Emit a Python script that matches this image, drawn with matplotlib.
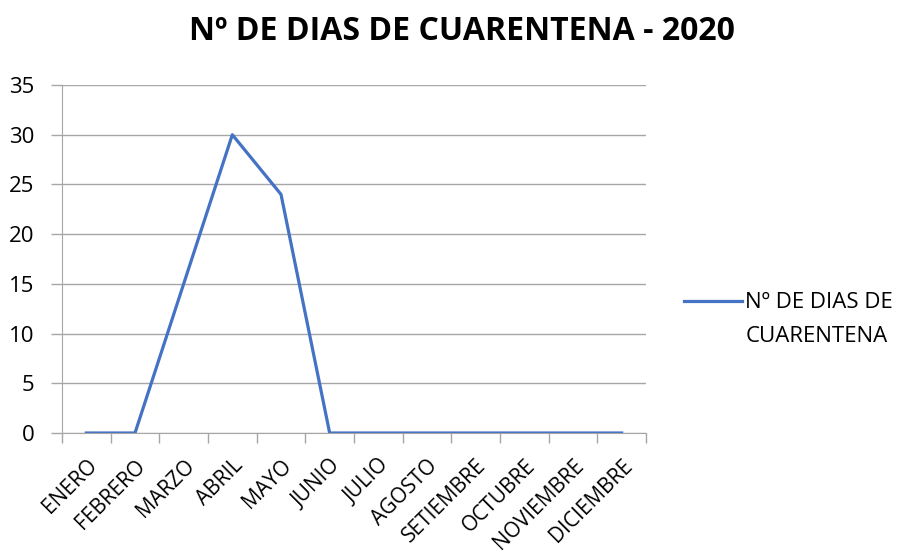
import numpy as np
import matplotlib
matplotlib.use("Agg")
import matplotlib.pyplot as plt

meses = ["ENERO", "FEBRERO", "MARZO", "ABRIL", "MAYO", "JUNIO", "JULIO",
         "AGOSTO", "SETIEMBRE", "OCTUBRE", "NOVIEMBRE", "DICIEMBRE"]
dias = [0, 0, 15, 30, 24, 0, 0, 0, 0, 0, 0, 0]
serie = ["Nº DE DIAS DE", "CUARENTENA"]

plt.rcParams["font.family"] = ["Open Sans", "DejaVu Sans"]

fig = plt.figure(figsize=(9.02, 5.57), dpi=100)
ax = fig.add_axes([62 / 902, 1 - 433 / 557, (646 - 62) / 902, (433 - 85) / 557])

x = np.arange(len(meses))
ax.plot(x, dias, color="#4472C4", linewidth=2.3, label=serie[0])

ax.set_xlim(-0.5, len(meses) - 0.5)
ax.set_ylim(0, 35)
ax.set_yticks(range(0, 36, 5))
ax.yaxis.grid(True, color="#a6a6a6", linewidth=1)
ax.set_axisbelow(True)

# ticks on category boundaries, labels at centers
ax.set_xticks(x)
ax.set_xticklabels(meses, rotation=45, ha="right", va="top", rotation_mode="anchor")
ax.set_xticks(np.arange(-0.5, len(meses)), minor=True)
ax.tick_params(axis="x", which="major", length=0, pad=16, labelsize=15)
ax.tick_params(axis="x", which="minor", length=7, color="#a6a6a6", width=1)
ax.tick_params(axis="y", length=8, color="#a6a6a6", width=1, labelsize=16, pad=12)

for s in ["top", "right"]:
    ax.spines[s].set_visible(False)
for s in ["left", "bottom"]:
    ax.spines[s].set_color("#a6a6a6")

fig.text(462 / 902, 1 - 32 / 557, "Nº DE DIAS DE CUARENTENA - 2020",
         ha="center", va="center", fontsize=23, fontweight="bold")

fig.legend(loc="center left", bbox_to_anchor=(684 / 902, 1 - 303 / 557),
           frameon=False, fontsize=16, handlelength=2.6, handletextpad=0.15,
           borderpad=0, borderaxespad=0)
fig.text(746 / 902, 1 - 336 / 557, serie[1], ha="left", va="center", fontsize=16)

fig.savefig("out.png", dpi=100)
